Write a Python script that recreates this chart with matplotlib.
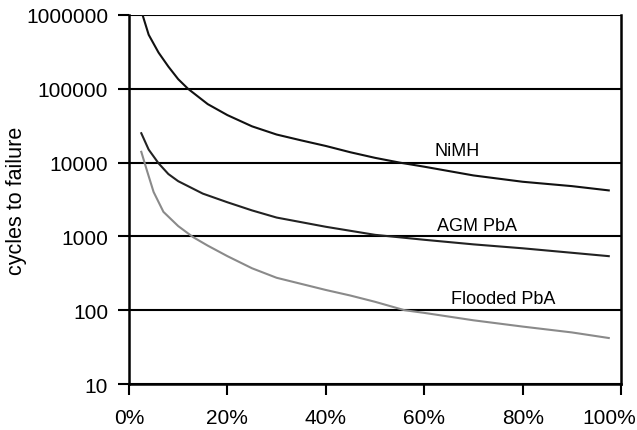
import matplotlib
matplotlib.use("Agg")
import matplotlib.pyplot as plt
import matplotlib.transforms as mtransforms
from matplotlib.ticker import FixedLocator, FuncFormatter

plt.rcParams['font.family'] = ['Liberation Sans', 'DejaVu Sans']

# depth of discharge (%) and cycles to failure
dod_nimh = [2.8, 4, 6, 8, 10, 12, 16, 20, 25, 30, 35, 40, 45, 50, 55, 60, 70, 80, 90, 97.5]
nimh = [980000, 540000, 310000, 200000, 135000, 100000, 62000, 44000, 31000, 24000,
        20000, 16800, 13800, 11600, 10000, 8800, 6700, 5500, 4800, 4200]

dod_agm = [2.5, 4, 6, 8, 10, 15, 20, 25, 30, 40, 50, 60, 70, 80, 90, 97.5]
agm = [25000, 15000, 9800, 7000, 5600, 3800, 2900, 2250, 1800, 1350, 1050, 900, 780, 690, 600, 540]

dod_flooded = [2.5, 3.7, 5, 7, 10, 13, 16, 20, 25, 30, 40, 45, 50, 56, 60, 70, 80, 90, 97.5]
flooded = [14000, 7600, 4000, 2150, 1380, 980, 750, 540, 370, 275, 188, 158, 130, 100, 92, 73, 60, 50, 42]

y_ticks = [10, 100, 1000, 10000, 100000, 1000000]
x_ticks = [0, 20, 40, 60, 80, 100]

fig = plt.figure(figsize=(6.37, 4.31), dpi=100)
ax = fig.add_axes([0.2025, 0.1067, 0.7725, 0.8562])

ax.plot(dod_nimh, nimh, color='#111111', lw=1.5)
ax.plot(dod_agm, agm, color='#222222', lw=1.5)
ax.plot(dod_flooded, flooded, color='#8a8a8a', lw=1.5)

ax.set_yscale('log')
ax.set_ylim(10, 1000000)
ax.set_xlim(0, 100)

# horizontal grid lines at each decade
for y in y_ticks:
    ax.axhline(y, color='black', lw=1.5, zorder=0)

ax.yaxis.set_major_locator(FixedLocator(y_ticks))
ax.yaxis.set_minor_locator(FixedLocator([]))
ax.yaxis.set_major_formatter(FuncFormatter(lambda v, p: f'{int(round(v))}'))
ax.xaxis.set_major_locator(FixedLocator(x_ticks))
ax.xaxis.set_major_formatter(FuncFormatter(lambda v, p: f'{int(v)}%'))

ax.tick_params(axis='both', direction='out', length=8, width=1.5, labelsize=15, color='black')
ax.tick_params(axis='y', pad=7)
ax.tick_params(axis='x', pad=9)

for side in ['left', 'bottom', 'right']:
    ax.spines[side].set_linewidth(1.8)
ax.spines['top'].set_visible(False)

ax.set_ylabel('cycles to failure', fontsize=15.5)
ax.yaxis.set_label_coords(-0.207, 0.5)

ax.text(66.7, 14500, 'NiMH', ha='center', va='center', fontsize=13)
ax.text(70.7, 1400, 'AGM PbA', ha='center', va='center', fontsize=13)
ax.text(76, 145, 'Flooded PbA', ha='center', va='center', fontsize=13)

# last x label sits a bit left of its tick, as in the original
fig.canvas.draw()
last = ax.get_xticklabels()[-1]
last.set_transform(last.get_transform() + mtransforms.ScaledTranslation(-0.12, 0, fig.dpi_scale_trans))

fig.savefig('out.png', dpi=100)
